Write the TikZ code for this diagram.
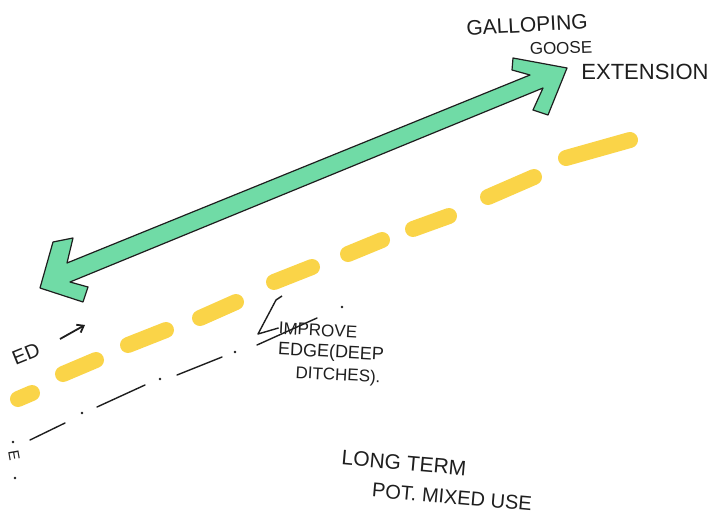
\documentclass[tikz,border=0pt]{standalone}
\usepackage{fontspec}
\setmainfont{Liberation Sans}
\usetikzlibrary{arrows.meta}
\definecolor{mint}{RGB}{112,219,166}
\definecolor{marker}{RGB}{250,212,72}
\definecolor{ink}{RGB}{30,30,30}
\begin{document}
\begin{tikzpicture}[x=1pt,y=-1pt,
  hand/.style={text=ink, inner sep=0pt, font=\fontsize{#1}{#1}\selectfont},
  hand/.default=20,
  yelldash/.style={draw=marker, line width=16pt, line cap=round},
  dashdot/.style={draw=ink, line width=1.4pt, line cap=round},
  dotmark/.style={fill=ink},
  outline/.style={draw=ink, line width=1.2pt, line join=round}]
\useasboundingbox (0,0) rectangle (719,519);
\fill[white] (0,0) rectangle (719,519);

% yellow dashed edge
\foreach \a/\b in {{(18,399)}/{(32,393)}, {(63,374)}/{(96,360)}, {(128,345)}/{(166,330)},
                   {(200,318)}/{(236,302)}, {(274,282)}/{(312,267)}, {(348,254)}/{(382,240)},
                   {(413,229)}/{(449,216)}, {(488,197)}/{(534,177)}, {(566,158)}/{(630,140)}}
  \draw[yelldash] \a -- \b;

% dash-dot line
\draw[dashdot] (30,440) -- (65,423);
\draw[dashdot] (97,407) -- (145,385);
\draw[dashdot] (177,375) -- (222,357);
\draw[dashdot] (257,345) -- (317,318);
\foreach \p in {(13,442),(82,413),(160,379),(235,352),(342,307),(15,478)}
  \fill[dotmark] \p circle (1.3pt);

% green double arrow
\filldraw[fill=mint, outline]
  (40,288) -- (53,242) -- (73,238) -- (67,263) -- (530,75) -- (512,70) -- (513,58)
  -- (567,68) -- (548,115) -- (533,110) -- (543,88) -- (70,282) -- (88,287) -- (83,302) -- cycle;

% labels
\node[hand=21, rotate=3] (gal) at (527,25) {GALLOPING};
\node[hand=17, rotate=2] (goo) at (561,48) {GOOSE};
\node[hand=22] (ext) at (645,72) {EXTENSION};

\node[hand=20, rotate=22] (ed) at (26,354) {ED};
\coordinate (edtip) at (85,325);
\draw[ink, line width=1.8pt, -{Straight Barb[length=6pt,width=9pt]}] (60,339) -- (edtip);

\node[hand=17, rotate=-3] (imp) at (318,330) {IMPROVE};
\node[hand=18, rotate=-3] (edge) at (331,353) {EDGE(DEEP};
\node[hand=17, rotate=-3] (dit) at (338,376) {DITCHES).};
\coordinate (hk) at (276,300);
\draw[ink, line width=1.4pt, line join=round] (282,296) -- (hk) -- (258,334) -- (imp.west);

\node[hand=21, rotate=-5] (long) at (404,463) {LONG TERM};
\node[hand=20, rotate=-5] (pot) at (452,497) {POT. MIXED USE};

\node[hand=15, rotate=-80] (frag) at (14,456) {E};
\end{tikzpicture}
\end{document}
